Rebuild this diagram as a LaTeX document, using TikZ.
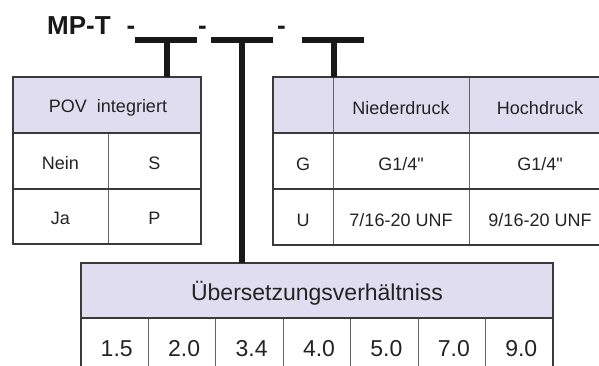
\documentclass[tikz,border=0pt]{standalone}
\usepackage{fontspec}
\setmainfont{Liberation Sans}
\definecolor{hdr}{RGB}{223,221,239}
\definecolor{rulec}{RGB}{58,58,58}
\definecolor{innerc}{RGB}{100,100,100}
\definecolor{ink}{RGB}{35,35,35}
\begin{document}
\begin{tikzpicture}[x=1pt,y=-1pt,
  cell/.style={anchor=base, font=\fontsize{18}{18}\selectfont, text=ink, inner sep=0pt},
  big/.style={anchor=base, font=\fontsize{23}{23}\selectfont, text=ink, inner sep=0pt},
  num/.style={anchor=base, font=\fontsize{23}{23}\selectfont, text=ink, inner sep=0pt},
  titlef/.style={font=\bfseries\fontsize{26}{26}\selectfont, text=black!90, inner sep=0pt},
  grid/.style={draw=rulec, line width=1.1pt},
  igrid/.style={draw=innerc, line width=1pt},
  tbar/.style={line width=6pt, draw=black!90}]
\useasboundingbox (0,0) rectangle (599,365);

% title with separators
\node[titlef, anchor=base west] (title) at (47,34) {MP-T};
\node[titlef, anchor=base] (d1) at (131,34) {-};
\node[titlef, anchor=base] (d2) at (202.5,34) {-};
\node[titlef, anchor=base] (d3) at (281.5,34) {-};

% left table: POV
\fill[hdr] (13,77) rectangle (201,133);
\draw[igrid] (108,133) -- (108,244);
\draw[grid] (13,77) rectangle (201,244);
\draw[grid] (13,133) -- (201,133) (13,189) -- (201,189);
\node[cell] (pov) at (108,112.5) {POV\ \ integriert};
\node[cell] (nein) at (60.5,169) {Nein};
\node[cell] (s) at (154.5,169) {S};
\node[cell] (ja) at (60.5,224.5) {Ja};
\node[cell] (p) at (154.5,224.5) {P};

% right table: connections
\fill[hdr] (273,77) rectangle (599,133);
\draw[igrid] (333,77) -- (333,245) (469,77) -- (469,245);
\draw[grid] (599,77) -- (273,77) -- (273,245) -- (599,245);
\draw[grid] (273,133) -- (599,133) (273,189) -- (599,189);
\node[cell] (nd) at (401,114) {Niederdruck};
\node[cell] (hd) at (540,114) {Hochdruck};
\node[cell] (g) at (303,170.5) {G};
\node[cell] (gnd) at (401,170.5) {G1/4\textquotedbl};
\node[cell] (ghd) at (540,170.5) {G1/4\textquotedbl};
\node[cell] (u) at (303,226) {U};
\node[cell] (und) at (401,226) {7/16-20 UNF};
\node[cell] (uhd) at (540,226) {9/16-20 UNF};

% bottom table: ratio
\fill[hdr] (81,263) rectangle (553,318);
\foreach \i in {1,...,6} {
  \draw[igrid] ({81+67.43*\i},318) -- ({81+67.43*\i},366);
}
\draw[grid] (81,366) -- (81,263) -- (553,263) -- (553,366);
\draw[grid] (81,318) -- (553,318);
\node[big] (ratio) at (317,300) {Übersetzungsverhältniss};
\foreach \v [count=\i from 0] in {1.5,2.0,3.4,4.0,5.0,7.0,9.0} {
  \node[num] (r\i) at ({81+67.43*(\i+0.5)+2},356.5) {\v};
}

% T markers pointing to the tables
\coordinate (t1l) at (135,40); \coordinate (t1r) at (197,40);
\coordinate (t1m) at (167,40); \coordinate (t1e) at (167,77);
\coordinate (t2l) at (211,40); \coordinate (t2r) at (273,40);
\coordinate (t2m) at (241.5,40); \coordinate (t2e) at (241.5,263);
\coordinate (t3l) at (302,40); \coordinate (t3r) at (364,40);
\coordinate (t3m) at (333.5,40); \coordinate (t3e) at (333.5,77);
\draw[tbar] (t1l) -- (t1r) (t1m) -- (t1e);
\draw[tbar] (t2l) -- (t2r) (t2m) -- (t2e);
\draw[tbar] (t3l) -- (t3r) (t3m) -- (t3e);
\end{tikzpicture}
\end{document}
